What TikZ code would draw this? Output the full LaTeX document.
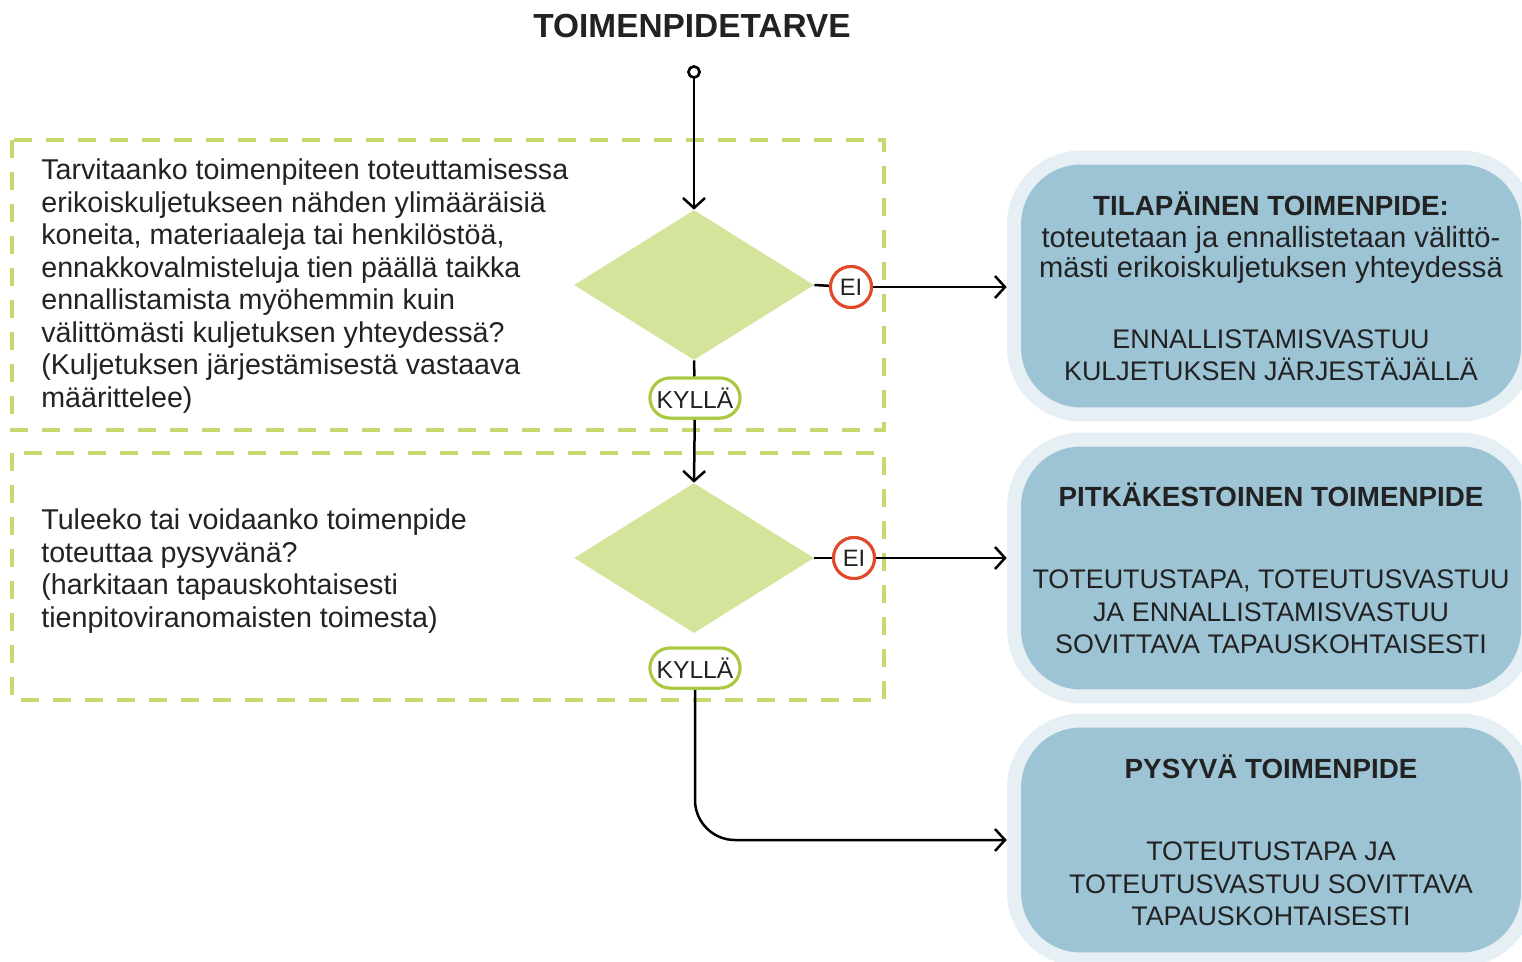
\documentclass[tikz,border=0pt]{standalone}
\usepackage{fontspec}
\setmainfont{Liberation Sans}
\usetikzlibrary{positioning,shapes.geometric,arrows.meta}
\definecolor{limeline}{HTML}{C6D86E}
\definecolor{limefill}{HTML}{D4E49B}
\definecolor{limepill}{HTML}{A9C940}
\definecolor{eired}{HTML}{E2492A}
\definecolor{outblue}{HTML}{9DC4D5}
\definecolor{outglow}{HTML}{E6EFF4}
\definecolor{inktext}{HTML}{222222}

\begin{document}
\begin{tikzpicture}[
    x=0.02cm, y=-0.02cm,
    dashframe/.style={
        draw=limeline,
        line width=0.08cm,
        dash pattern=on 0.36cm off 0.28cm,
    },
    question/.style={
        anchor=west,
        align=left,
        inner sep=0,
        text=inktext,
        font=\fontsize{16.3}{18.5}\selectfont,
    },
    decision/.style={
        diamond,
        fill=limefill,
        minimum width=4.8cm,
        minimum height=3cm,
        inner sep=0,
    },
    kyllapill/.style={
        draw=limepill,
        line width=0.06cm,
        fill=white,
        rounded corners=0.4cm,
        minimum width=1.8cm,
        minimum height=0.8cm,
        inner sep=1pt,
        text=inktext,
        font=\fontsize{14}{14}\selectfont,
    },
    eicircle/.style={
        circle,
        draw=eired,
        line width=0.06cm,
        fill=white,
        minimum size=0.82cm,
        inner sep=0,
        text=inktext,
        font=\fontsize{13.5}{13.5}\selectfont,
    },
    outcome/.style={
        fill=outblue,
        preaction={draw=outglow, line width=0.56cm},
        rounded corners=1.2cm,
        minimum width=10cm,
        minimum height=4.86cm,
        align=center,
        text=inktext,
        font=\fontsize{15.3}{18.4}\selectfont,
    },
    boxhead/.style={font=\fontsize{15.8}{18.4}\selectfont\bfseries},
    flow/.style={
        line width=0.05cm,
        -{Straight Barb[length=0.2cm, width=0.44cm]},
    },
    link/.style={line width=0.05cm},
]
\useasboundingbox (0,0) rectangle (1522,961);

% frames round the two questions
\draw[dashframe] (12,140) rectangle (884,430);
\draw[dashframe] (12,453) rectangle (884,700);

\node[font=\fontsize{19}{19}\selectfont\bfseries, text=inktext] (title) at (692,26) {TOIMENPIDETARVE};
\node[circle, draw, line width=0.05cm, fill=white, minimum size=0.22cm, inner sep=0] (start) at (694,72) {};

\node[question] (Q1) at (41,286) {Tarvitaanko toimenpiteen toteuttamisessa\\
erikoiskuljetukseen nähden ylimääräisiä\\
koneita, materiaaleja tai henkilöstöä,\\
ennakkovalmisteluja tien päällä taikka\\
ennallistamista myöhemmin kuin\\
välittömästi kuljetuksen yhteydessä?\\
(Kuljetuksen järjestämisestä vastaava\\
määrittelee)};
\node[question] (Q2) at (41,571) {Tuleeko tai voidaanko toimenpide\\
toteuttaa pysyvänä?\\
(harkitaan tapauskohtaisesti\\
tienpitoviranomaisten toimesta)};

\node[decision] (D1) at (694,285) {};
\node[decision] (D2) at (694,558) {};
\node[eicircle] (E1) at (851,287) {EI};
\node[eicircle] (E2) at (854,558) {EI};
\node[kyllapill] (K1) at (695,398) {KYLLÄ};
\node[kyllapill] (K2) at (695,668) {KYLLÄ};

\node[outcome] (B1) at (1271,286) {{\fontsize{15.8}{18.4}\selectfont\bfseries TILAPÄINEN TOIMENPIDE:}\\
{\fontsize{16.6}{18.4}\selectfont toteutetaan ja ennallistetaan välittö-}\\[-1.5pt]
{\fontsize{16.6}{18.4}\selectfont mästi erikoiskuljetuksen yhteydessä}\\[22pt]
ENNALLISTAMISVASTUU\\
KULJETUKSEN JÄRJESTÄJÄLLÄ};
\node[outcome] (B2) at (1271,568) {{\fontsize{15.8}{18.4}\selectfont\bfseries PITKÄKESTOINEN TOIMENPIDE}\\[28.6pt]
TOTEUTUSTAPA, TOTEUTUSVASTUU\\
JA ENNALLISTAMISVASTUU\\
SOVITTAVA TAPAUSKOHTAISESTI};
\node[outcome, minimum height=4.5cm] (B3) at (1271,840) {{\fontsize{15.8}{18.4}\selectfont\bfseries PYSYVÄ TOIMENPIDE}\\[28.6pt]
TOTEUTUSTAPA JA\\
TOTEUTUSVASTUU SOVITTAVA\\
TAPAUSKOHTAISESTI};

% connectors
\draw[flow] (start) -- (D1.north);
\draw[link] (D1.east) -- (E1);
\draw[flow, shorten >=0.28cm] (E1) -- (E1 -| B1.west);
\draw[link] (D1.south) -- (K1);
\draw[flow] (K1) -- (D2.north);
\draw[link] (D2.east) -- (E2);
\draw[flow, shorten >=0.28cm] (E2) -- (E2 -| B2.west);
\draw[flow, rounded corners=0.8cm, shorten >=0.28cm] (K2) |- (B3.west);

% redraw nodes over the lines
\node[eicircle] at (E1) {EI};
\node[eicircle] at (E2) {EI};
\node[kyllapill] at (K1) {KYLLÄ};
\node[kyllapill] at (K2) {KYLLÄ};
\node[circle, draw, line width=0.05cm, fill=white, minimum size=0.22cm, inner sep=0] at (start) {};

\end{tikzpicture}
\end{document}
